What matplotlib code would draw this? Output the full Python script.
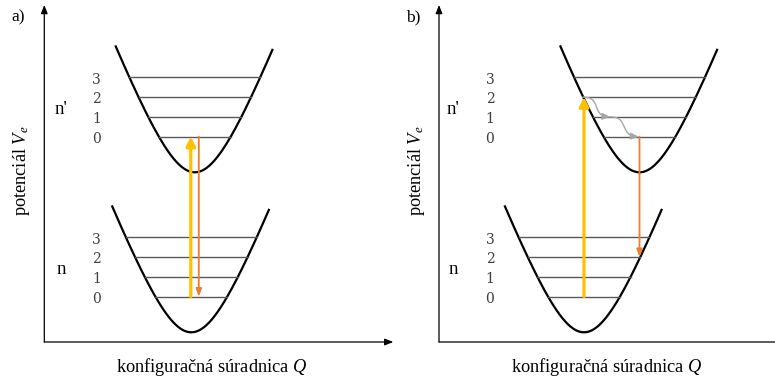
import numpy as np
import matplotlib
matplotlib.use("Agg")
import matplotlib.pyplot as plt

plt.rcParams["font.family"] = ["Liberation Serif", "DejaVu Serif"]
plt.rcParams["mathtext.fontset"] = "custom"
plt.rcParams["mathtext.rm"] = "Liberation Serif"
plt.rcParams["mathtext.it"] = "Liberation Serif:italic"

W, H, DPI = 775, 381, 100

# vibrational quantum numbers and their heights above the well minimum
levels = [0, 1, 2, 3]
level_heights = [35.6, 55.4, 75.2, 95.0]

# potential-well shape (hyperbolic profile) and drawn extent
well_depth_scale = 103.6
well_width_scale = 40.0
well_left, well_right = 79.5, 78.0

# well minima (Q, V) for ground state n and excited state n'
wells_a = {"n": (147.0, 9.7), "n'": (150.5, 169.7)}
wells_b = {"n": (145.0, 9.7), "n'": (200.5, 169.7)}

# transitions: (Q position, from state, from level, to state, to level)
absorption_a = (146.5, "n", 0, "n'", 0)
emission_a = (154.5, "n'", 0, "n", 0)
absorption_b = (145.0, "n", 0, "n'", 2)
emission_b = (200.5, "n'", 0, "n", 2)

# non-radiative relaxation in n': Q positions on levels 2 -> 1 -> 0
relax_q = [144.0, 171.0, 199.5]
relax_levels = [2, 1, 0]

panel_labels = ["a)", "b)"]
xlabel = "konfiguračná súradnica $Q$"
ylabel = "potenciál $V_e$"

YELLOW = "#FFC000"
ORANGE = "#ED7D31"
GREY = "#A6A6A6"
LEVEL_C = "#595959"
DIGIT_C = "#404040"


def well_profile(dq):
    return well_depth_scale * (np.sqrt(1 + (dq / well_width_scale) ** 2) - 1)


def half_width(d):
    return well_width_scale * np.sqrt((1 + d / well_depth_scale) ** 2 - 1)


def level_v(wells, state, lv):
    return wells[state][1] + level_heights[levels.index(lv)]


def arrow(ax, start, end, color, lw, style):
    ax.annotate("", xy=end, xytext=start, xycoords="data",
                arrowprops=dict(arrowstyle=style, color=color, lw=lw,
                                shrinkA=0, shrinkB=0, mutation_scale=10),
                annotation_clip=False)


def draw_panel(ax, wells, label, digit_q, state_q, transitions, relax=None):
    ax.set_xlim(0, 350)
    ax.set_ylim(0, 342)
    ax.axis("off")

    # axes with arrowheads
    arrow(ax, (0, 0), (0, 337), "black", 0.9, "-|>,head_length=0.5,head_width=0.2")
    arrow(ax, (0, 0), (349, 0), "black", 0.9, "-|>,head_length=0.5,head_width=0.2")

    for state, (q0, v0) in wells.items():
        q = np.linspace(q0 - well_left, q0 + well_right, 400)
        ax.plot(q, v0 + well_profile(q - q0), color="black", lw=1.6,
                solid_capstyle="butt", clip_on=False)
        for lv, d in zip(levels, level_heights):
            hw = half_width(d)
            ax.plot([q0 - hw, q0 + hw], [v0 + d, v0 + d], color=LEVEL_C,
                    lw=1.0, clip_on=False)
            ax.text(digit_q, v0 + d - 2.3, str(lv), family="DejaVu Serif",
                    fontsize=10, color=DIGIT_C, ha="center", va="center")
        ax.text(state_q, v0 + 62.5, state, fontsize=13.5, ha="center",
                va="center")

    for (q, s0, l0, s1, l1), color, lw, style in transitions:
        arrow(ax, (q, level_v(wells, s0, l0)), (q, level_v(wells, s1, l1)),
              color, lw, style)

    if relax is not None:
        qs, lvs = relax
        amp = 3.4
        for i in range(len(qs) - 1):
            p0 = np.array([qs[i], level_v(wells, "n'", lvs[i])])
            p1 = np.array([qs[i + 1], level_v(wells, "n'", lvs[i + 1])])
            d = p1 - p0
            n = np.array([-d[1], d[0]]) / np.hypot(*d)
            t = np.linspace(0, 1, 120)
            pts = p0 + np.outer(t, d) + np.outer(amp * np.sin(2 * np.pi * t), n)
            ax.plot(pts[:-6, 0], pts[:-6, 1], color=GREY, lw=1.0)
            arrow(ax, tuple(pts[-8]), tuple(pts[-1]), GREY, 1.0,
                  "-|>,head_length=0.45,head_width=0.2")

    ax.text(-26, 325, label, fontsize=12.5, ha="center", va="center")
    ax.text(-22.5, 171, ylabel, fontsize=13.2, rotation=90, ha="center",
            va="center")
    ax.text(167.5, -25, xlabel, fontsize=13.2, ha="center", va="center")


fig = plt.figure(figsize=(W / DPI, H / DPI), dpi=DPI)
bottom = (H - 342) / H
ax_a = fig.add_axes([44.3 / W, bottom, 350 / W, 342 / H])
ax_b = fig.add_axes([439.0 / W, bottom, 350 / W, 342 / H])

up_style = "-|>,head_length=0.55,head_width=0.28"
down_style = "-|>,head_length=0.45,head_width=0.17"

draw_panel(ax_a, wells_a, panel_labels[0], 52.5, 17,
           [(absorption_a, YELLOW, 2.3, up_style),
            (emission_a, ORANGE, 1.3, down_style)])
draw_panel(ax_b, wells_b, panel_labels[1], 51, 14,
           [(absorption_b, YELLOW, 2.3, up_style),
            (emission_b, ORANGE, 1.3, down_style)],
           relax=(relax_q, relax_levels))

fig.savefig("out.png", dpi=DPI)
